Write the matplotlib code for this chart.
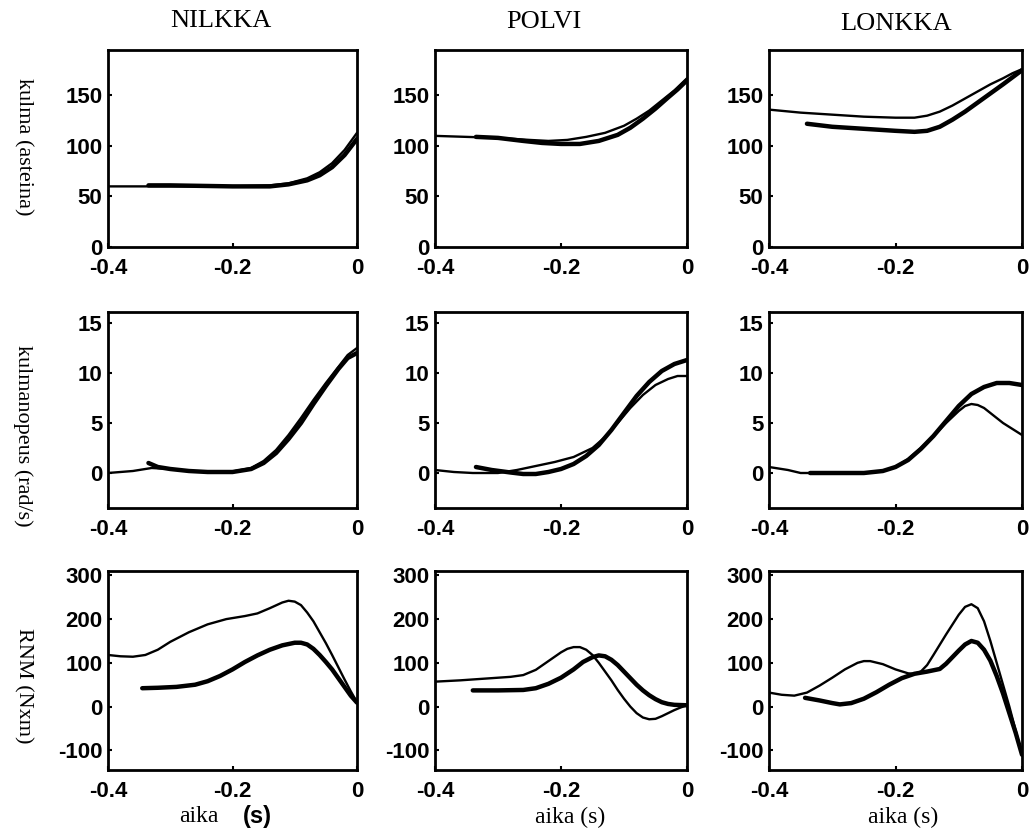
import matplotlib

matplotlib.use("Agg")
import matplotlib.pyplot as plt

plt.rcParams["axes.unicode_minus"] = False

# column / row labels
joints = ["NILKKA", "POLVI", "LONKKA"]
row_labels = ["kulma (asteina)", "kulmanopeus (rad/s)", "RNM (Nxm)"]
row_yticks = [[0, 50, 100, 150], [0, 5, 10, 15], [-100, 0, 100, 200, 300]]
row_ylims = [(0, 195), (-3.5, 16.1), (-145, 310)]
xticks = [-0.4, -0.2, 0]

# kulma (angle), thin and thick curves per joint
ang_nil_thin_t = [-0.4, -0.3, -0.2, -0.14, -0.11, -0.08, -0.06, -0.04, -0.02, 0.0]
ang_nil_thin_v = [60, 60, 60, 61, 63, 68, 74, 83, 96, 113]
ang_nil_thick_t = [-0.335, -0.3, -0.2, -0.14, -0.11, -0.08, -0.06, -0.04, -0.02, 0.0]
ang_nil_thick_v = [61, 61, 60, 60, 62, 66, 71, 79, 91, 107]

ang_pol_thin_t = [-0.4, -0.35, -0.3, -0.25, -0.22, -0.19, -0.16, -0.13, -0.1, -0.08, -0.06, -0.04, -0.02, 0.0]
ang_pol_thin_v = [110, 109, 108, 106, 105, 106, 109, 113, 120, 127, 135, 145, 155, 167]
ang_pol_thick_t = [-0.335, -0.3, -0.26, -0.23, -0.2, -0.17, -0.14, -0.11, -0.09, -0.07, -0.05, -0.03, -0.015, 0.0]
ang_pol_thick_v = [109, 108, 105, 103, 102, 102, 105, 111, 118, 127, 137, 148, 156, 165]

ang_lon_thin_t = [-0.4, -0.35, -0.3, -0.25, -0.2, -0.17, -0.15, -0.13, -0.11, -0.09, -0.07, -0.05, -0.03, -0.015, 0.0]
ang_lon_thin_v = [136, 133, 131, 129, 128, 128, 130, 134, 140, 147, 154, 161, 167, 172, 176]
ang_lon_thick_t = [-0.34, -0.3, -0.25, -0.2, -0.17, -0.15, -0.13, -0.11, -0.09, -0.07, -0.05, -0.03, -0.015, 0.0]
ang_lon_thick_v = [122, 119, 117, 115, 114, 115, 119, 126, 134, 143, 152, 161, 168, 175]

# kulmanopeus (angular velocity)
vel_nil_thin_t = [-0.4, -0.36, -0.33, -0.3, -0.27, -0.24, -0.2, -0.17, -0.15, -0.13, -0.11, -0.09, -0.07, -0.05, -0.03, -0.015, 0.0]
vel_nil_thin_v = [0, 0.2, 0.5, 0.4, 0.2, 0.1, 0.15, 0.5, 1.2, 2.3, 3.8, 5.5, 7.3, 9.0, 10.6, 11.8, 12.5]
vel_nil_thick_t = [-0.335, -0.32, -0.3, -0.27, -0.24, -0.2, -0.17, -0.15, -0.13, -0.11, -0.09, -0.07, -0.05, -0.03, -0.015, 0.0]
vel_nil_thick_v = [1.0, 0.6, 0.4, 0.2, 0.1, 0.1, 0.4, 1.0, 2.0, 3.4, 5.0, 6.9, 8.7, 10.4, 11.5, 12.0]

vel_pol_thin_t = [-0.4, -0.37, -0.34, -0.3, -0.27, -0.24, -0.21, -0.18, -0.15, -0.13, -0.11, -0.09, -0.07, -0.05, -0.03, -0.015, 0.0]
vel_pol_thin_v = [0.3, 0.1, 0, 0, 0.3, 0.7, 1.1, 1.6, 2.5, 3.6, 5.0, 6.5, 7.8, 8.8, 9.4, 9.7, 9.7]
vel_pol_thick_t = [-0.335, -0.31, -0.28, -0.26, -0.24, -0.22, -0.2, -0.18, -0.16, -0.14, -0.12, -0.1, -0.08, -0.06, -0.04, -0.02, 0.0]
vel_pol_thick_v = [0.6, 0.3, 0.05, -0.1, -0.1, 0.1, 0.4, 0.9, 1.7, 2.8, 4.3, 6.0, 7.7, 9.1, 10.2, 10.9, 11.3]

vel_lon_thin_t = [-0.4, -0.37, -0.35, -0.3, -0.25, -0.22, -0.2, -0.18, -0.16, -0.14, -0.12, -0.1, -0.09, -0.08, -0.07, -0.06, -0.05, -0.04, -0.03, -0.02, -0.01, 0.0]
vel_lon_thin_v = [0.6, 0.3, 0, 0, 0, 0.2, 0.6, 1.4, 2.5, 3.7, 5.0, 6.2, 6.7, 6.9, 6.8, 6.5, 6.0, 5.5, 5.0, 4.6, 4.2, 3.8]
vel_lon_thick_t = [-0.335, -0.3, -0.25, -0.22, -0.2, -0.18, -0.16, -0.14, -0.12, -0.1, -0.08, -0.06, -0.04, -0.02, 0.0]
vel_lon_thick_v = [0, 0, 0, 0.2, 0.6, 1.3, 2.4, 3.7, 5.2, 6.7, 7.9, 8.6, 9.0, 9.0, 8.8]

# RNM (net joint moment)
mom_nil_thin_t = [-0.4, -0.38, -0.36, -0.34, -0.32, -0.3, -0.27, -0.24, -0.21, -0.18, -0.16, -0.14, -0.12, -0.11, -0.1,
                  -0.09, -0.08, -0.07, -0.06, -0.05, -0.04, -0.03, -0.02, -0.01, 0.0]
mom_nil_thin_v = [118, 115, 114, 118, 130, 148, 170, 188, 200, 207, 213, 225, 238, 242, 240,
                  232, 215, 195, 170, 145, 118, 90, 62, 35, 10]
mom_nil_thick_t = [-0.345, -0.32, -0.29, -0.26, -0.24, -0.22, -0.2, -0.18, -0.16, -0.14, -0.12, -0.1,
                   -0.09, -0.08, -0.07, -0.06, -0.05, -0.04, -0.03, -0.02, -0.01, 0.0]
mom_nil_thick_v = [42, 43, 45, 50, 58, 70, 85, 102, 117, 130, 140, 146,
                   146, 142, 132, 118, 102, 85, 65, 45, 25, 9]

mom_pol_thin_t = [-0.4, -0.36, -0.32, -0.28, -0.26, -0.24, -0.22, -0.2, -0.19, -0.18, -0.17, -0.16, -0.15, -0.14,
                  -0.13, -0.12, -0.11, -0.1, -0.09, -0.08, -0.07, -0.06, -0.05, -0.04, -0.03, -0.02, -0.01, 0.0]
mom_pol_thin_v = [57, 60, 64, 68, 72, 84, 104, 124, 132, 136, 136, 130, 118, 100,
                  80, 60, 38, 18, 0, -15, -25, -29, -28, -22, -15, -8, -2, 3]
mom_pol_thick_t = [-0.34, -0.3, -0.26, -0.24, -0.22, -0.2, -0.18, -0.165, -0.15, -0.14, -0.13, -0.12,
                   -0.11, -0.1, -0.09, -0.08, -0.07, -0.06, -0.05, -0.04, -0.03, -0.02, 0.0]
mom_pol_thick_v = [37, 37, 38, 42, 52, 66, 85, 102, 113, 117, 115, 107,
                   95, 80, 65, 50, 37, 26, 17, 10, 6, 4, 3]

mom_lon_thin_t = [-0.4, -0.38, -0.36, -0.34, -0.32, -0.3, -0.28, -0.26, -0.25, -0.24, -0.22, -0.2, -0.18, -0.17,
                  -0.16, -0.15, -0.14, -0.12, -0.1, -0.09, -0.08, -0.07, -0.06, -0.05, -0.04, -0.03, -0.02, -0.01, 0.0]
mom_lon_thin_v = [32, 27, 25, 32, 48, 66, 85, 100, 104, 104, 97, 85, 76, 75,
                  80, 95, 118, 165, 210, 228, 234, 225, 195, 150, 100, 50, 0, -55, -110]
mom_lon_thick_t = [-0.343, -0.32, -0.3, -0.288, -0.27, -0.25, -0.23, -0.21, -0.19, -0.17, -0.15, -0.13,
                   -0.12, -0.1, -0.09, -0.08, -0.07, -0.06, -0.05, -0.04, -0.03, -0.02, -0.01, 0.0]
mom_lon_thick_v = [20, 14, 8, 5, 8, 18, 33, 50, 65, 75, 80, 86,
                   98, 128, 142, 150, 146, 130, 105, 70, 30, -15, -60, -110]

curves = [
    [(ang_nil_thin_t, ang_nil_thin_v, ang_nil_thick_t, ang_nil_thick_v),
     (ang_pol_thin_t, ang_pol_thin_v, ang_pol_thick_t, ang_pol_thick_v),
     (ang_lon_thin_t, ang_lon_thin_v, ang_lon_thick_t, ang_lon_thick_v)],
    [(vel_nil_thin_t, vel_nil_thin_v, vel_nil_thick_t, vel_nil_thick_v),
     (vel_pol_thin_t, vel_pol_thin_v, vel_pol_thick_t, vel_pol_thick_v),
     (vel_lon_thin_t, vel_lon_thin_v, vel_lon_thick_t, vel_lon_thick_v)],
    [(mom_nil_thin_t, mom_nil_thin_v, mom_nil_thick_t, mom_nil_thick_v),
     (mom_pol_thin_t, mom_pol_thin_v, mom_pol_thick_t, mom_pol_thick_v),
     (mom_lon_thin_t, mom_lon_thin_v, mom_lon_thick_t, mom_lon_thick_v)],
]

W, H = 1036, 832
col_left = [108, 435, 769]
col_width = [249, 252, 253]
row_top = [50, 312, 571]
row_bottom = [247, 508, 770]

SERIF = "Liberation Serif"
SANS = "Liberation Sans"

fig = plt.figure(figsize=(W / 100, H / 100), dpi=100)

for r in range(3):
    for c in range(3):
        l, w = col_left[c], col_width[c]
        t, b = row_top[r], row_bottom[r]
        ax = fig.add_axes([l / W, 1 - b / H, w / W, (b - t) / H])
        tt, tv, kt, kv = curves[r][c]
        ax.plot(tt, tv, color="black", linewidth=1.7, solid_capstyle="round", solid_joinstyle="round")
        ax.plot(kt, kv, color="black", linewidth=3.2, solid_capstyle="round", solid_joinstyle="round")
        ax.set_xlim(-0.4, 0)
        ax.set_ylim(*row_ylims[r])
        ax.set_xticks(xticks)
        ax.set_xticklabels(["-0.4", "-0.2", "0"])
        ax.set_yticks(row_yticks[r])
        ax.tick_params(direction="in", length=3, width=1.5, labelsize=16)
        ax.tick_params(axis="x", pad=8)
        ax.tick_params(axis="y", pad=4)
        for lab in ax.get_xticklabels() + ax.get_yticklabels():
            lab.set_fontfamily(SANS)
            lab.set_fontweight("bold")
        for sp in ax.spines.values():
            sp.set_linewidth(2)

# column titles
title_x = [221, 544, 896]
title_y = [21, 22, 24]
for c, name in enumerate(joints):
    fig.text(title_x[c] / W, 1 - title_y[c] / H, name, family=SERIF, fontsize=19, ha="center", va="center")

# row labels
row_mid = [147, 436, 686]
for r, lab in enumerate(row_labels):
    fig.text(23 / W, 1 - row_mid[r] / H, lab, family=SERIF, fontsize=16,
             rotation=270, ha="center", va="center")

# x axis labels
fig.text(199 / W, 1 - 817 / H, "aika", family=SERIF, fontsize=17, ha="center", va="center")
fig.text(257 / W, 1 - 817 / H, "(s)", family=SANS, fontweight="bold", fontsize=17, ha="center", va="center")
fig.text(570 / W, 1 - 817 / H, "aika (s)", family=SERIF, fontsize=17, ha="center", va="center")
fig.text(903 / W, 1 - 817 / H, "aika (s)", family=SERIF, fontsize=17, ha="center", va="center")

fig.savefig("out.png", dpi=100)
